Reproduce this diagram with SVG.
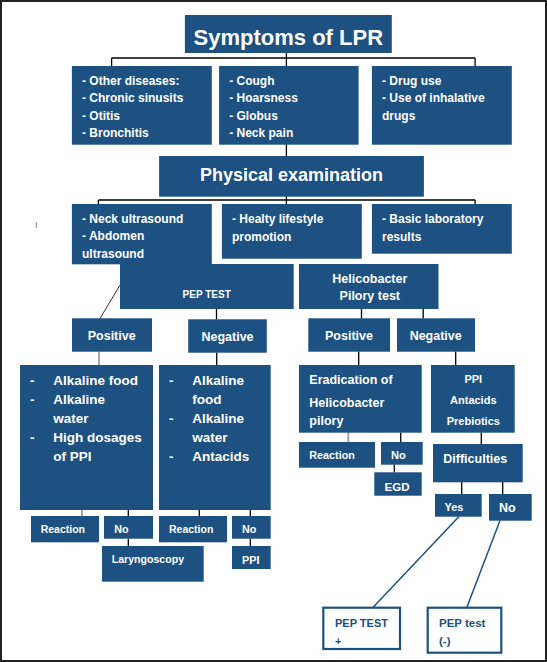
<svg xmlns="http://www.w3.org/2000/svg" width="547" height="662" viewBox="0 0 547 662">
<style>
.b{fill:#1c5182}
.o{fill:#ffffff;stroke:#1c5182;stroke-width:2.2}
text{font-family:"Liberation Sans",Arial,sans-serif;font-weight:bold;fill:#ffffff}
.d{fill:#1c4f7e}
.c line{stroke:#000;stroke-width:1.3}
.c line.g{stroke:#a6a6a6;stroke-width:2}
.c line.bl{stroke:#1c5182;stroke-width:1.5}
.c line.dg{stroke:#333;stroke-width:1}
</style>
<rect x="1" y="1" width="545" height="660" fill="#ffffff" stroke="#222" stroke-width="2"/>
<g class="c" id="connectors">
<line x1="286.4" y1="53" x2="286.4" y2="66"/>
<line x1="111.6" y1="58" x2="475.1" y2="58"/>
<line x1="111.6" y1="58" x2="111.6" y2="66"/>
<line x1="475.1" y1="58" x2="475.1" y2="66"/>
<line x1="286.4" y1="144" x2="286.4" y2="156"/>
<line x1="286.4" y1="196" x2="286.4" y2="204"/>
<line x1="98.4" y1="200" x2="475.1" y2="200"/>
<line x1="98.4" y1="200" x2="98.4" y2="204"/>
<line x1="475.1" y1="200" x2="475.1" y2="204"/>
<line class="dg" x1="120" y1="285" x2="100" y2="318.5"/>
<line x1="216.5" y1="309" x2="216.5" y2="319.5"/>
<line x1="361.5" y1="309" x2="361.5" y2="318.5"/>
<line x1="423.2" y1="309" x2="423.2" y2="318.5"/>
<line class="g" x1="99" y1="351.5" x2="99" y2="365"/>
<line x1="216.7" y1="352.5" x2="216.7" y2="365"/>
<line x1="358.7" y1="351.5" x2="358.7" y2="365"/>
<line x1="455.7" y1="351.5" x2="455.7" y2="365"/>
<line class="g" x1="348.3" y1="432.5" x2="348.3" y2="442"/>
<line x1="400.7" y1="432.5" x2="400.7" y2="442"/>
<line x1="394.3" y1="464.5" x2="394.3" y2="472.5"/>
<line x1="481.3" y1="432.5" x2="481.3" y2="444"/>
<line x1="461.7" y1="482" x2="461.7" y2="494"/>
<line x1="502.7" y1="482" x2="502.7" y2="494"/>
<line class="bl" x1="459" y1="516.5" x2="372.7" y2="607.7"/>
<line class="bl" x1="500" y1="520.5" x2="466.7" y2="607.7"/>
<line class="g" x1="82" y1="510" x2="82" y2="516"/>
<line x1="128.3" y1="510" x2="128.3" y2="516"/>
<line x1="128.3" y1="538.5" x2="128.3" y2="546"/>
<line x1="199.3" y1="510" x2="199.3" y2="516"/>
<line x1="250.3" y1="510" x2="250.3" y2="516"/>
<line x1="250.3" y1="538.5" x2="250.3" y2="546"/>
<line class="g" x1="36.3" y1="222" x2="36.3" y2="228" style="stroke:#888;stroke-width:1"/>
</g>
<g id="title"><rect class="b" x="184.9" y="15" width="206.9" height="38"/><text x="288.3" y="45" font-size="22" text-anchor="middle">Symptoms of LPR</text></g>
<g id="other"><rect class="b" x="71.9" y="66" width="139.9" height="78.7"/>
<text font-size="12"><tspan x="82" y="84.5">- Other diseases:</tspan><tspan x="82" y="102">- Chronic sinusits</tspan><tspan x="82" y="119.5">- Otitis</tspan><tspan x="82" y="137">- Bronchitis</tspan></text></g>
<g id="symptoms"><rect class="b" x="219.1" y="66" width="139.5" height="78.7"/>
<text font-size="12"><tspan x="229.2" y="84.5">- Cough</tspan><tspan x="229.2" y="102">- Hoarsness</tspan><tspan x="229.2" y="119.5">- Globus</tspan><tspan x="229.2" y="137">- Neck pain</tspan></text></g>
<g id="drugs"><rect class="b" x="371.9" y="66" width="139.9" height="78.7"/>
<text font-size="12"><tspan x="382" y="84.5">- Drug use</tspan><tspan x="382" y="102">- Use of inhalative</tspan><tspan x="382" y="119.5">drugs</tspan></text></g>
<g id="physical"><rect class="b" x="159.1" y="156" width="264.8" height="40.7"/><text x="291.5" y="180.7" font-size="18" text-anchor="middle">Physical examination</text></g>
<g id="ultrasound"><rect class="b" x="71.9" y="204" width="139.9" height="60.3"/>
<text font-size="12"><tspan x="82" y="222.5">- Neck ultrasound</tspan><tspan x="82" y="240">- Abdomen</tspan><tspan x="82" y="257.5">ultrasound</tspan></text></g>
<g id="lifestyle"><rect class="b" x="221.9" y="204" width="139.9" height="54.7"/>
<text font-size="12"><tspan x="232" y="222.5">- Healty lifestyle</tspan><tspan x="232" y="240.5">promotion</tspan></text></g>
<g id="lab"><rect class="b" x="371.9" y="204" width="139.9" height="49.7"/>
<text font-size="12"><tspan x="382" y="222.5">- Basic laboratory</tspan><tspan x="382" y="240.5">results</tspan></text></g>
<g id="pep"><rect class="b" x="120" y="264" width="173.7" height="45"/><text x="206.7" y="297.6" font-size="10" text-anchor="middle">PEP TEST</text></g>
<g id="helico"><rect class="b" x="299" y="264" width="139.5" height="45"/>
<text font-size="12.5" text-anchor="middle"><tspan x="369.8" y="282.8">Helicobacter</tspan><tspan x="369.8" y="300.2">Pilory test</tspan></text></g>
<g id="pos1"><rect class="b" x="72" y="318.3" width="80" height="33.4"/><text x="111.7" y="340.4" font-size="12.5" text-anchor="middle">Positive</text></g>
<g id="neg1"><rect class="b" x="188.2" y="319.3" width="78.6" height="33.4"/><text x="227.5" y="341.4" font-size="12.5" text-anchor="middle">Negative</text></g>
<g id="pos2"><rect class="b" x="308.3" y="318.3" width="81.7" height="33.4"/><text x="349" y="340.4" font-size="12.5" text-anchor="middle">Positive</text></g>
<g id="neg2"><rect class="b" x="397" y="318.3" width="78" height="33.4"/><text x="435.7" y="340.4" font-size="12.5" text-anchor="middle">Negative</text></g>
<g id="treatPos"><rect class="b" x="20" y="365" width="133" height="145"/>
<text font-size="13.5"><tspan x="30" y="384.8">-</tspan><tspan x="53.3" y="384.8">Alkaline food</tspan><tspan x="30" y="404">-</tspan><tspan x="53.3" y="404">Alkaline</tspan><tspan x="53.3" y="422.8">water</tspan><tspan x="30" y="442">-</tspan><tspan x="53.3" y="442">High dosages</tspan><tspan x="53.3" y="460.8">of PPI</tspan></text></g>
<g id="treatNeg"><rect class="b" x="159" y="365" width="111.7" height="145"/>
<text font-size="13.5"><tspan x="169" y="384.8">-</tspan><tspan x="192.3" y="384.8">Alkaline</tspan><tspan x="192.3" y="404">food</tspan><tspan x="169" y="422.8">-</tspan><tspan x="192.3" y="422.8">Alkaline</tspan><tspan x="192.3" y="442">water</tspan><tspan x="169" y="460.8">-</tspan><tspan x="192.3" y="460.8">Antacids</tspan></text></g>
<g id="eradication"><rect class="b" x="299" y="365" width="122.7" height="67.7"/>
<text font-size="12.5"><tspan x="309.3" y="384">Eradication of</tspan><tspan x="309.3" y="407">Helicobacter</tspan><tspan x="309.3" y="424.8">pilory</tspan></text></g>
<g id="ppiBox"><rect class="b" x="431" y="365" width="83.7" height="67.7"/>
<text font-size="11" text-anchor="middle"><tspan x="473.3" y="383.3">PPI</tspan><tspan x="473.3" y="404">Antacids</tspan><tspan x="473.3" y="425">Prebiotics</tspan></text></g>
<g id="reactionH"><rect class="b" x="299" y="442" width="76" height="25.7"/><text x="309.3" y="459" font-size="10.8">Reaction</text></g>
<g id="noH"><rect class="b" x="381" y="442" width="41.7" height="22.7"/><text x="391" y="459" font-size="11">No</text></g>
<g id="egd"><rect class="b" x="374.3" y="472.3" width="47.4" height="23.4"/><text x="397" y="490.7" font-size="11.5" text-anchor="middle">EGD</text></g>
<g id="difficulties"><rect class="b" x="433" y="444" width="89.7" height="38.3"/><text x="443.3" y="462.8" font-size="12.5">Difficulties</text></g>
<g id="yes"><rect class="b" x="435" y="494" width="46.7" height="22.7"/><text x="454" y="510.7" font-size="11" text-anchor="middle">Yes</text></g>
<g id="noD"><rect class="b" x="489" y="494" width="42.7" height="26.7"/><text x="507.3" y="511.8" font-size="12.5" text-anchor="middle">No</text></g>
<g id="pepPlus"><rect class="o" x="323.3" y="607.7" width="76.7" height="41.3"/>
<text class="d" font-size="11"><tspan x="335" y="626.7">PEP TEST</tspan><tspan x="335" y="645">+</tspan></text></g>
<g id="pepMinus"><rect class="o" x="427.7" y="607.7" width="73.6" height="45"/>
<text class="d" font-size="11.5"><tspan x="439" y="626.7">PEP test</tspan><tspan x="439" y="645">(-)</tspan></text></g>
<g id="reactionL"><rect class="b" x="31" y="516" width="68" height="26.3"/><text x="40.7" y="532.8" font-size="10.5">Reaction</text></g>
<g id="noL"><rect class="b" x="104" y="516" width="49" height="22.7"/><text x="114.3" y="532.8" font-size="10.8">No</text></g>
<g id="laryngoscopy"><rect class="b" x="102" y="546" width="101.7" height="35.7"/><text x="111.7" y="563" font-size="10.6">Laryngoscopy</text></g>
<g id="reactionR"><rect class="b" x="159" y="516" width="68" height="26.3"/><text x="169" y="532.8" font-size="10.5">Reaction</text></g>
<g id="noR"><rect class="b" x="232" y="516" width="38.7" height="22.7"/><text x="242" y="532.8" font-size="10.8">No</text></g>
<g id="ppiR"><rect class="b" x="232" y="546" width="38.7" height="23"/><text x="242" y="563.8" font-size="10.8">PPI</text></g>
</svg>
